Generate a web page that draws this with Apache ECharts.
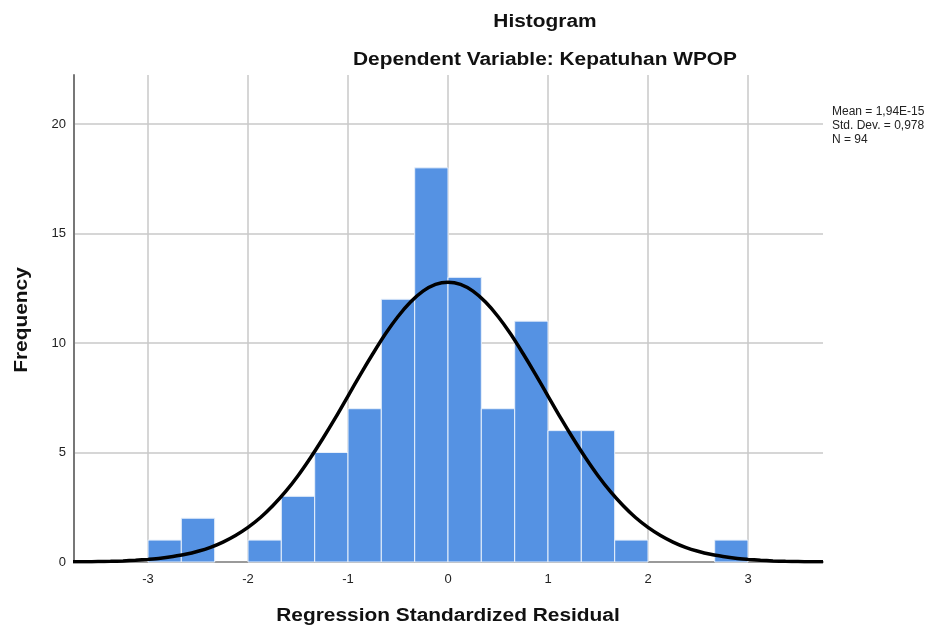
<!DOCTYPE html>
<html>
<head>
<meta charset="utf-8">
<script src="https://cdn.jsdelivr.net/npm/echarts@6/dist/echarts.min.js"></script>
<style>html,body{margin:0;padding:0;background:#fff}#c{width:945px;height:628px}</style>
</head>
<body>
<div id="c"></div>
<script>
// Histogram bins (start, end) and frequencies
var binStarts = [-3.000, -2.667, -2.333, -2.000, -1.667, -1.333, -1.000, -0.667, -0.333, 0.000, 0.333, 0.667, 1.000, 1.333, 1.667, 2.000, 2.333, 2.667];
var binEnds   = [-2.667, -2.333, -2.000, -1.667, -1.333, -1.000, -0.667, -0.333, 0.000, 0.333, 0.667, 1.000, 1.333, 1.667, 2.000, 2.333, 2.667, 3.000];
var frequencies = [1, 2, 0, 1, 3, 5, 7, 12, 18, 13, 7, 11, 6, 6, 1, 0, 0, 1];

// Normal curve
var curveX = [-3.75, -3.625, -3.5, -3.375, -3.25, -3.125, -3.0, -2.875, -2.75, -2.625, -2.5, -2.375, -2.25, -2.125, -2.0, -1.875, -1.75, -1.625, -1.5, -1.375, -1.25, -1.125, -1.0, -0.875, -0.75, -0.625, -0.5, -0.375, -0.25, -0.125, 0,
              0.125, 0.25, 0.375, 0.5, 0.625, 0.75, 0.875, 1.0, 1.125, 1.25, 1.375, 1.5, 1.625, 1.75, 1.875, 2.0, 2.125, 2.25, 2.375, 2.5, 2.625, 2.75, 2.875, 3.0, 3.125, 3.25, 3.375, 3.5, 3.625, 3.75];
var curveY = [0.01, 0.013, 0.02, 0.03, 0.05, 0.08, 0.12, 0.17, 0.25, 0.35, 0.49, 0.67, 0.91, 1.21, 1.58, 2.03, 2.58, 3.21, 3.94, 4.76, 5.65, 6.59, 7.58, 8.57, 9.52, 10.42, 11.21, 11.87, 12.37, 12.68, 12.78,
              12.68, 12.37, 11.87, 11.21, 10.42, 9.52, 8.57, 7.58, 6.59, 5.65, 4.76, 3.94, 3.21, 2.58, 2.03, 1.58, 1.21, 0.91, 0.67, 0.49, 0.35, 0.25, 0.17, 0.12, 0.08, 0.05, 0.03, 0.02, 0.013, 0.01];

var xTicks = [-3, -2, -1, 0, 1, 2, 3];
var yTicks = [0, 5, 10, 15, 20];
var titleText = 'Histogram';
var subtitleText = 'Dependent Variable: Kepatuhan WPOP';
var statsLines = ['Mean = 1,94E-15', 'Std. Dev. = 0,978', 'N = 94'];
var xName = 'Regression Standardized Residual';
var yName = 'Frequency';

var barData = binStarts.map(function (s, i) { return [s, binEnds[i], frequencies[i]]; });
var curveData = curveX.map(function (x, i) { return [x, curveY[i]]; });

var FONT = '"Liberation Sans", Arial, sans-serif';
var BOLD18 = 'bold 18px ' + FONT;
var STRETCH = 1.16;
function label(text, x, y, rot) {
  return { type: 'text', x: x, y: y, rotation: rot || 0, scaleX: STRETCH, silent: true,
    style: { text: text, font: BOLD18, fill: '#111', textAlign: 'center', textVerticalAlign: 'middle' } };
}
var chart = echarts.init(document.getElementById('c'), null, { renderer: 'canvas' });
chart.setOption({
  animation: false,
  backgroundColor: '#ffffff',
  graphic: [
    label(titleText, 545, 22),
    label(subtitleText, 545, 60),
    label(xName, 448, 616),
    label(yName, 22, 320, Math.PI / 2),
    { type: 'text', left: 832, top: 105, silent: true,
      style: { text: statsLines.join('\n'), font: '12px ' + FONT, fill: '#222', lineHeight: 14 } }
  ],
  grid: { left: 74, right: 122, top: 75, bottom: 66, containLabel: false },
  xAxis: {
    type: 'value', min: -3.74, max: 3.75,
    axisLine: { show: true, onZero: false, lineStyle: { color: '#9a9a9a', width: 2 } },
    axisTick: { show: false, customValues: xTicks },
    axisLabel: { customValues: xTicks, fontFamily: FONT, fontSize: 13, color: '#222', margin: 11 },
    splitLine: { show: true, lineStyle: { color: '#c8c8c8', width: 1.5 } }
  },
  yAxis: {
    type: 'value', min: 0, max: 22.24,
    axisLine: { show: true, onZero: false, lineStyle: { color: '#777', width: 2 } },
    axisTick: { show: false, customValues: yTicks },
    axisLabel: { customValues: yTicks, fontFamily: FONT, fontSize: 13, color: '#222', margin: 8 },
    splitLine: { show: true, lineStyle: { color: '#c8c8c8', width: 1.5 } }
  },
  series: [
    {
      type: 'custom',
      data: barData,
      z: 2,
      renderItem: function (params, api) {
        if (api.value(2) === 0) return null;
        var p0 = api.coord([api.value(0), 0]);
        var p1 = api.coord([api.value(1), api.value(2)]);
        return {
          type: 'rect',
          shape: { x: p0[0], y: p1[1], width: p1[0] - p0[0], height: p0[1] - p1[1] },
          style: { fill: '#5592e3', stroke: '#e8f0fb', lineWidth: 1 }
        };
      },
      encode: { x: [0, 1], y: 2 }
    },
    {
      type: 'line',
      data: curveData,
      smooth: 0.3,
      showSymbol: false,
      z: 5,
      lineStyle: { color: '#000', width: 3.5 }
    }
  ]
});
</script>
</body>
</html>
